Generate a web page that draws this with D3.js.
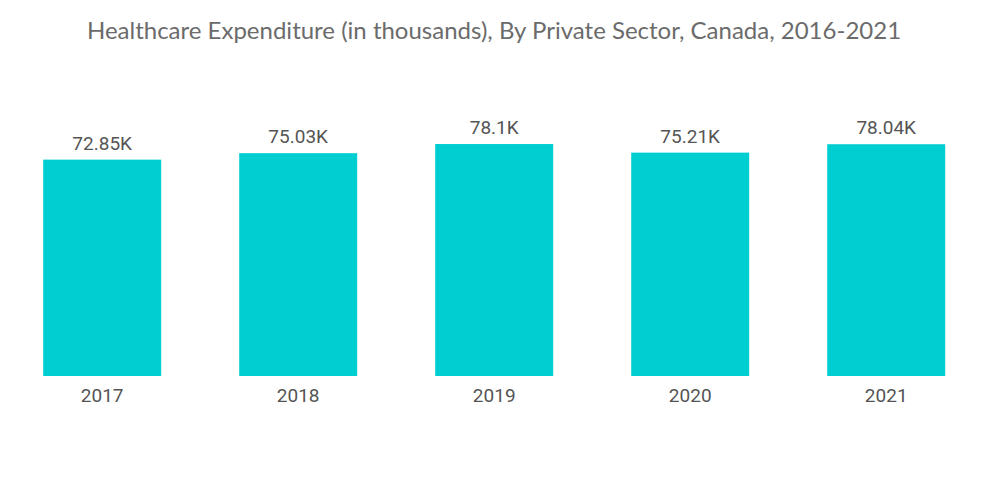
<!DOCTYPE html>
<html><head><meta charset="utf-8">
<script src="https://cdn.jsdelivr.net/npm/d3@7"></script>
<style>body{margin:0;background:#fff;}svg{display:block;}</style>
</head><body>
<svg id="c" width="1000" height="504"></svg>
<script>
const years = ["2017","2018","2019","2020","2021"];
const values = [72.85, 75.03, 78.1, 75.21, 78.04];
const valueLabels = ["72.85K","75.03K","78.1K","75.21K","78.04K"];
const title = "Healthcare Expenditure (in thousands), By Private Sector, Canada, 2016-2021";

const svg = d3.select("#c");
const x = d3.scaleBand().domain(years).range([4, 984.4]).paddingInner(0.398).paddingOuter(0.2);
const y = d3.scaleLinear().domain([0, 100]).range([376, 79]);

svg.append("text").attr("x", 494).attr("y", 39).attr("text-anchor", "middle")
  .attr("font-family", "Lato, sans-serif").attr("font-size", 24).attr("fill", "#6b6b6b")
  .text(title);

svg.selectAll("rect.bar").data(years).enter().append("rect").attr("class","bar")
  .attr("x", d => x(d)).attr("width", x.bandwidth())
  .attr("y", (d,i) => y(values[i])).attr("height", (d,i) => y(0) - y(values[i]))
  .attr("fill", "#00ced1");

svg.selectAll("text.val").data(years).enter().append("text").attr("class","val")
  .attr("x", d => x(d) + x.bandwidth()/2).attr("y", (d,i) => y(values[i]) - 10)
  .attr("text-anchor","middle").attr("font-family","Roboto, sans-serif").attr("font-size",19)
  .attr("fill","#555").text((d,i) => valueLabels[i]);

const ax = svg.append("g").attr("transform","translate(0,376)")
  .call(d3.axisBottom(x).tickSize(0).tickPadding(13));
ax.select(".domain").remove();
ax.selectAll("text").attr("font-family","Roboto, sans-serif").attr("font-size",19).attr("fill","#555");
</script>
</body></html>
